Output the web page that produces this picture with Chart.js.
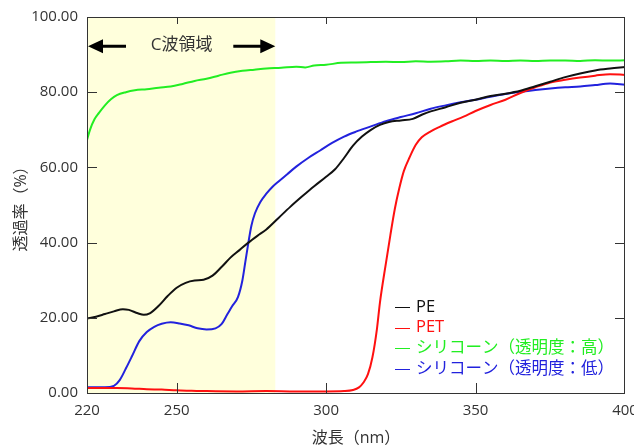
<!DOCTYPE html>
<html>
<head>
<meta charset="utf-8">
<script src="https://cdn.jsdelivr.net/npm/chart.js@4"></script>
<style>
  body { margin: 0; background: #fff; }
  #wrap { width: 634px; height: 448px; }
</style>
</head>
<body>
<div id="wrap"><canvas id="myChart"></canvas></div>
<script>
"use strict"

// DATA (wavelength nm / transmittance %)
const peX = [220, 223, 226, 229, 232, 234, 237, 239, 241, 244, 247, 250, 253, 256, 259, 262, 265, 268, 271, 274, 277, 280, 284, 288, 292, 296, 300, 303, 306, 309, 312, 315, 318, 321, 325, 329, 332, 335, 340, 345, 350, 355, 360, 365, 370, 375, 380, 385, 390, 395, 400];
const peY = [19.8, 20.3, 21.0, 21.7, 22.3, 22.1, 21.2, 20.8, 21.2, 23.2, 25.8, 28.0, 29.3, 29.9, 30.1, 31.2, 33.5, 36.0, 38.0, 40.0, 41.8, 43.5, 46.5, 49.5, 52.3, 55.0, 57.5, 59.5, 62.5, 65.8, 68.2, 70.0, 71.3, 72.1, 72.5, 72.9, 74.0, 74.9, 76.0, 77.2, 78.0, 79.0, 79.6, 80.4, 81.6, 82.8, 84.0, 85.0, 85.8, 86.3, 86.7];

const petX = [220, 230, 235, 240, 245, 250, 255, 260, 270, 280, 290, 300, 306, 309, 311, 312.5, 314, 315.5, 317, 318, 320, 321.5, 323, 324.5, 326, 328, 330, 332, 335, 338, 342, 346, 350, 355, 360, 365, 370, 375, 380, 385, 390, 395, 400];
const petY = [1.3, 1.3, 1.2, 1.0, 0.9, 0.7, 0.6, 0.5, 0.4, 0.5, 0.4, 0.4, 0.5, 0.8, 1.5, 2.8, 5.0, 9.5, 17.0, 24.0, 34.5, 42.0, 49.0, 54.5, 59.0, 62.8, 66.0, 68.0, 69.6, 70.8, 72.2, 73.5, 75.0, 76.6, 78.0, 79.8, 81.3, 82.6, 83.3, 83.9, 84.4, 84.8, 84.6];

const siHighX = [220, 221, 222.5, 224, 226, 228, 230, 233, 236, 240, 244, 248, 252, 256, 260, 264, 268, 272, 276, 280, 285, 290, 293, 296, 300, 305, 310, 315, 320, 325, 330, 335, 340, 345, 350, 355, 360, 365, 370, 375, 380, 385, 390, 395, 400];
const siHighY = [67.3, 70.0, 72.8, 74.5, 76.5, 78.1, 79.2, 80.0, 80.5, 80.8, 81.2, 81.5, 82.2, 83.0, 83.6, 84.4, 85.2, 85.7, 86.0, 86.3, 86.5, 86.8, 86.6, 87.1, 87.3, 87.8, 87.9, 88.0, 88.1, 88.0, 88.2, 88.1, 88.2, 88.4, 88.3, 88.4, 88.3, 88.4, 88.3, 88.4, 88.4, 88.3, 88.5, 88.4, 88.5];

const siLowX = [220, 226, 229, 231, 233, 235, 237.5, 240, 242.5, 245, 248, 251, 254, 257, 260, 263, 265, 267, 268.5, 270.5, 272, 273, 274, 275, 276.2, 278, 280, 282, 284, 287, 290, 294, 298, 302, 306, 310, 315, 320, 325, 330, 335, 340, 345, 350, 355, 360, 365, 370, 375, 380, 385, 390, 395, 400];
const siLowY = [1.5, 1.5, 1.9, 3.5, 6.5, 9.7, 13.8, 16.2, 17.6, 18.4, 18.8, 18.5, 18.0, 17.2, 16.9, 17.2, 18.3, 21.0, 23.0, 25.5, 30.0, 35.0, 40.0, 44.5, 47.8, 50.8, 53.0, 54.8, 56.2, 58.2, 60.2, 62.5, 64.5, 66.5, 68.2, 69.5, 70.9, 72.3, 73.4, 74.4, 75.6, 76.5, 77.3, 78.0, 78.8, 79.5, 80.1, 80.6, 81.0, 81.3, 81.5, 81.9, 82.3, 82.0];

const seriesNames = ['PE', 'PET', 'シリコーン（透明度：高）', 'シリコーン（透明度：低）'];
const seriesColors = ['#111111', '#ff1010', '#22ee22', '#2222dd'];
const xTicks = [220, 250, 300, 350, 400];
const yTicks = [0, 20, 40, 60, 80, 100];

// C-wave region
const regionStart = 220, regionEnd = 283;
const regionLabel = 'C波領域';

const FONT = '"Open Sans", "Noto Sans CJK JP", sans-serif';

function pts(xs, ys) {
    return xs.map((x, i) => ({ x: x, y: ys[i] }));
}

const allSeries = [pts(peX, peY), pts(petX, petY), pts(siHighX, siHighY), pts(siLowX, siLowY)];

// background band + frame + inward ticks + arrows + legend
const decoPlugin = {
    id: 'deco',
    beforeDatasetsDraw(chart) {
        const ctx = chart.ctx, a = chart.chartArea;
        const xs = chart.scales.x;
        ctx.save();
        ctx.fillStyle = '#ffffdc';
        const x0 = xs.getPixelForValue(regionStart), x1 = xs.getPixelForValue(regionEnd);
        ctx.fillRect(x0, a.top, x1 - x0, a.bottom - a.top);
        ctx.restore();
    },
    afterDatasetsDraw(chart) {
        const ctx = chart.ctx, a = chart.chartArea;
        const xs = chart.scales.x, ys = chart.scales.y;
        ctx.save();
        // frame
        ctx.strokeStyle = '#333';
        ctx.lineWidth = 1;
        ctx.strokeRect(a.left + 0.5, a.top + 0.5, a.right - a.left - 1, a.bottom - a.top);
        // inward ticks
        ctx.beginPath();
        xTicks.slice(1, -1).forEach(v => {
            const px = Math.round(xs.getPixelForValue(v)) + 0.5;
            ctx.moveTo(px, a.bottom); ctx.lineTo(px, a.bottom - 10);
            ctx.moveTo(px, a.top); ctx.lineTo(px, a.top + 7);
        });
        yTicks.slice(1, -1).forEach(v => {
            const py = Math.round(ys.getPixelForValue(v)) + 0.5;
            ctx.moveTo(a.left, py); ctx.lineTo(a.left + 10, py);
            ctx.moveTo(a.right, py); ctx.lineTo(a.right - 10, py);
        });
        ctx.stroke();

        // C-wave arrows and label
        const ay = ys.getPixelForValue(92.2);
        const lx = xs.getPixelForValue(regionStart) + 1, rx = xs.getPixelForValue(regionEnd);
        ctx.fillStyle = '#000';
        ctx.strokeStyle = '#000';
        ctx.lineWidth = 3;
        ctx.beginPath();
        ctx.moveTo(lx + 12, ay); ctx.lineTo(lx + 38, ay);
        ctx.moveTo(rx - 42, ay); ctx.lineTo(rx - 12, ay);
        ctx.stroke();
        ctx.beginPath();
        ctx.moveTo(lx, ay); ctx.lineTo(lx + 15, ay - 7); ctx.lineTo(lx + 15, ay + 7); ctx.closePath();
        ctx.moveTo(rx, ay); ctx.lineTo(rx - 15, ay - 7); ctx.lineTo(rx - 15, ay + 7); ctx.closePath();
        ctx.fill();
        ctx.fillStyle = '#333';
        ctx.font = '17px ' + FONT;
        ctx.textAlign = 'center';
        ctx.textBaseline = 'middle';
        ctx.fillText(regionLabel, (lx + rx) / 2, ay - 1);

        // legend
        ctx.font = '16.5px ' + FONT;
        ctx.textAlign = 'left';
        const lgX = a.left + 308, lgY = a.top + 290, rowH = 20.7;
        chart.data.datasets.forEach((ds, i) => {
            const y = lgY + i * rowH;
            ctx.strokeStyle = ds.borderColor;
            ctx.lineWidth = 1;
            ctx.beginPath();
            ctx.moveTo(lgX, Math.round(y) + 0.5); ctx.lineTo(lgX + 15, Math.round(y) + 0.5);
            ctx.stroke();
            ctx.fillStyle = ds.borderColor;
            ctx.fillText(ds.label, lgX + 21, y);
        });
        ctx.restore();
    }
};

const data = {
    datasets: allSeries.map((d, i) => ({
        label: seriesNames[i],
        data: d,
        borderColor: seriesColors[i],
        backgroundColor: seriesColors[i],
        borderWidth: 2,
        pointRadius: 0,
        fill: false,
        cubicInterpolationMode: 'monotone'
    }))
};

const config = {
    type: 'line',
    data: data,
    options: {
        responsive: true,
        maintainAspectRatio: false,
        animation: false,
        layout: { padding: { top: 17, right: 9, left: 0, bottom: 0 } },
        plugins: {
            legend: { display: false },
            tooltip: { enabled: false }
        },
        scales: {
            x: {
                type: 'linear',
                min: 220,
                max: 400,
                afterBuildTicks: s => { s.ticks = xTicks.map(v => ({ value: v })); },
                afterFit: s => { s.height = 55; s.paddingLeft = 0; s.paddingRight = 0; },
                grid: { display: false, drawTicks: false },
                border: { display: false },
                ticks: {
                    color: '#333',
                    padding: 9,
                    maxRotation: 0,
                    font: { family: FONT, size: 15 }
                },
                title: {
                    display: true,
                    text: '波長（nm）',
                    color: '#333',
                    padding: { top: 3, bottom: 0 },
                    font: { family: FONT, size: 16 }
                }
            },
            y: {
                min: 0,
                max: 100,
                afterBuildTicks: s => { s.ticks = yTicks.map(v => ({ value: v })); },
                afterFit: s => { s.width = 87; s.paddingTop = 0; s.paddingBottom = 0; },
                grid: { display: false, drawTicks: false },
                border: { display: false },
                ticks: {
                    color: '#333',
                    padding: 9,
                    font: { family: FONT, size: 15 },
                    callback: v => v.toFixed(2)
                },
                title: {
                    display: true,
                    text: '透過率（%）',
                    color: '#333',
                    padding: { top: 12, bottom: 0 },
                    font: { family: FONT, size: 16 }
                }
            }
        }
    },
    plugins: [decoPlugin]
};

const myChart = new Chart(document.getElementById('myChart'), config);
</script>
</body>
</html>
